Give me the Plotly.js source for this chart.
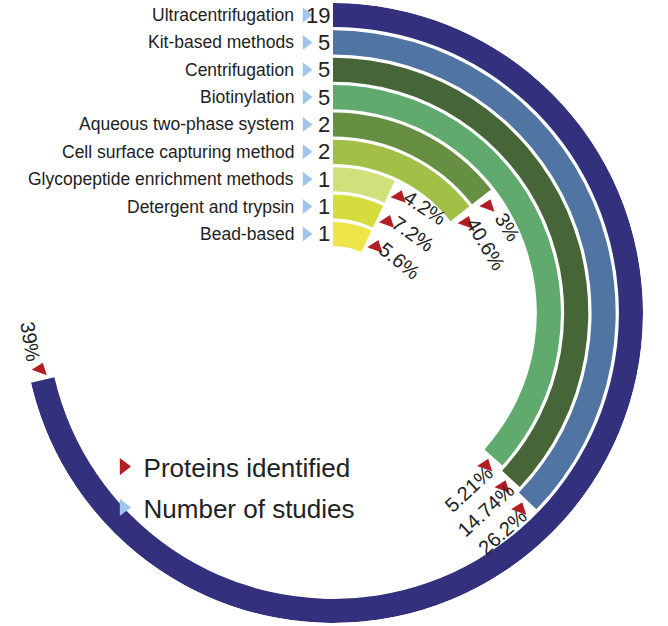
<!DOCTYPE html>
<html>
<head>
<meta charset="utf-8">
<script src="https://cdn.plot.ly/plotly-3.0.1.min.js"></script>
<style>html,body{margin:0;padding:0;background:#fff}</style>
</head>
<body>
<div id="chart" style="width:668px;height:626px"></div>
<script>
var methods = ['Ultracentrifugation', 'Kit-based methods', 'Centrifugation', 'Biotinylation',
  'Aqueous two-phase system', 'Cell surface capturing method',
  'Glycopeptide enrichment methods', 'Detergent and trypsin', 'Bead-based'];
var studies = [19, 5, 5, 5, 2, 2, 1, 1, 1];
var proteins = ['39%', '26.2%', '14.74%', '5.21%', '3%', '40.6%', '4.2%', '7.2%', '5.6%'];
// sweep of each ring as drawn, in degrees (the 19-study ring is drawn broken)
var sweep = [257, 134, 133, 132, 52, 52, 25, 25, 25];
var ringColors = ['#33307d', '#5075a3', '#466638', '#5faa6c', '#668f42',
  '#a2bf48', '#d1e07a', '#d6db3e', '#efe54a'];

var red = '#b31e25', lightBlue = '#9fc6ea';
var n = methods.length;
var hole = 2.45, band = 0.88;
var rMax = hole + n - 1 + band;
var base = methods.map(function (m, i) { return hole + (n - 1 - i); });
var mid = base.map(function (b) { return b + band / 2; });
var PX = 310 / rMax;           // pixels per radial unit
var rad = Math.PI / 180;

function toX(r, deg) { return r * Math.sin(deg * rad); }
function toY(r, deg) { return r * Math.cos(deg * rad); }

var rings = {
  type: 'barpolar',
  r: base.map(function () { return band; }),
  base: base,
  theta: sweep.map(function (s) { return s / 2; }),
  width: sweep,
  marker: {color: ringColors, line: {width: 0}},
  showlegend: false,
  hoverinfo: 'skip'
};

// red markers just past the end of each ring
var tipTheta = sweep.map(function (s, i) { return s + 11 / (mid[i] * PX) / rad; });
var tips = {
  type: 'scatterpolar',
  mode: 'markers',
  r: mid,
  theta: tipTheta,
  marker: {symbol: 'triangle-up', size: 14, color: red, angle: 20},
  showlegend: false,
  hoverinfo: 'skip'
};

// blue markers between the method names and study counts
var studyMarks = {
  type: 'scatter',
  mode: 'markers',
  x: mid.map(function () { return -27 / PX; }),
  y: mid,
  marker: {symbol: 'triangle-right', size: 13, color: lightBlue},
  showlegend: false,
  hoverinfo: 'skip'
};

var legendProteins = {
  type: 'scatter', mode: 'markers', x: [null], y: [null],
  name: 'Proteins identified', legendgroup: 'a',
  marker: {symbol: 'triangle-right', size: 15, color: red}
};
var legendStudies = {
  type: 'scatter', mode: 'markers', x: [null], y: [null],
  name: 'Number of studies', legendgroup: 'b',
  marker: {symbol: 'triangle-right', size: 15, color: lightBlue}
};

var annotations = [];
methods.forEach(function (m, i) {
  annotations.push({
    x: -37 / PX, y: mid[i], xref: 'x', yref: 'y', text: m, showarrow: false,
    xanchor: 'right', yanchor: 'middle', font: {size: 17.5, color: '#222'}
  });
  annotations.push({
    x: -1 / PX, y: mid[i], xref: 'x', yref: 'y', text: String(studies[i]), showarrow: false,
    xanchor: 'right', yanchor: 'middle', font: {size: 22, color: '#222'}
  });
  var rL = mid[i] + 6 / PX;
  var thL = sweep[i] + 40 / (rL * PX) / rad;
  var a = (sweep[i] + thL) / 2;
  if (a > 90 && a < 270) a -= 180;
  annotations.push({
    x: toX(rL, thL), y: toY(rL, thL), xref: 'x', yref: 'y', text: proteins[i],
    showarrow: false, textangle: a, xanchor: 'center', yanchor: 'middle',
    font: {size: 20, color: '#222'}
  });
});

var domX = [23 / 668, 643 / 668], domY = [3 / 626, 623 / 626];

var layout = {
  width: 668, height: 626,
  margin: {l: 0, r: 0, t: 0, b: 0},
  paper_bgcolor: '#fff', plot_bgcolor: 'rgba(0,0,0,0)',
  font: {family: 'Liberation Sans, Arial, sans-serif', color: '#222'},
  polar: {
    domain: {x: domX, y: domY},
    bgcolor: 'rgba(0,0,0,0)',
    hole: 0,
    radialaxis: {visible: false, range: [0, rMax]},
    angularaxis: {visible: false, direction: 'clockwise', rotation: 90}
  },
  xaxis: {domain: domX, range: [-rMax, rMax], visible: false, fixedrange: true},
  yaxis: {domain: domY, range: [-rMax, rMax], visible: false, fixedrange: true},
  showlegend: true,
  legend: {
    x: 0.155, y: 0.292, xanchor: 'left', yanchor: 'top',
    bgcolor: 'rgba(0,0,0,0)', font: {size: 26, color: '#222'},
    traceorder: 'grouped', tracegroupgap: 4
  },
  annotations: annotations
};

Plotly.newPlot('chart', [rings, tips, studyMarks, legendProteins, legendStudies], layout,
  {displayModeBar: false, staticPlot: true});
</script>
</body>
</html>
